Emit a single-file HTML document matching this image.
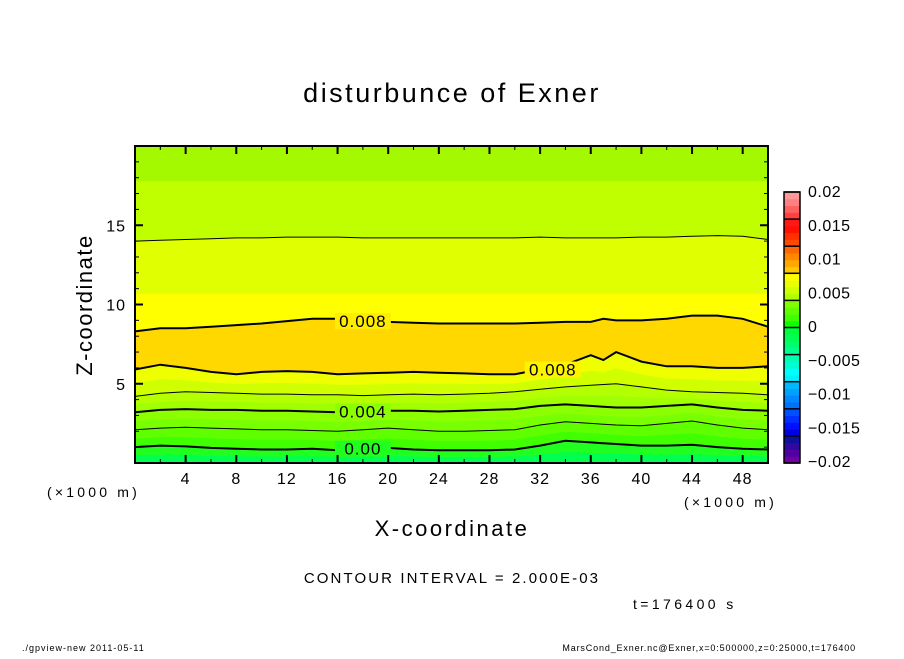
<!DOCTYPE html>
<html><head><meta charset="utf-8"><style>
body{margin:0;background:#fff;}
svg text{font-family:"Liberation Sans","DejaVu Sans",sans-serif;fill:#000;}
</style></head><body>
<svg id="chart" width="904" height="654" xmlns="http://www.w3.org/2000/svg">
<text x="452" y="102" text-anchor="middle" font-size="27" letter-spacing="2.5">disturbunce of Exner</text>
<g id="plot"></g>
<g id="axes"></g>
<g id="cbar"></g>
<text x="92" y="305" text-anchor="middle" font-size="22" letter-spacing="1.5" transform="rotate(-90 92 305)">Z-coordinate</text>
<text x="452" y="536" text-anchor="middle" font-size="22" letter-spacing="2.5">X-coordinate</text>
<text x="47" y="497" font-size="14" letter-spacing="3.2">(×1000 m)</text>
<text x="684" y="507" font-size="14" letter-spacing="3.2">(×1000 m)</text>
<text x="452" y="583" text-anchor="middle" font-size="15" letter-spacing="2.1">CONTOUR INTERVAL = 2.000E-03</text>
<text x="633" y="609" font-size="14" letter-spacing="3.4">t=176400 s</text>
<text x="22" y="651" font-size="9" letter-spacing="1">./gpview-new   2011-05-11</text>
<text x="856" y="651" font-size="9" text-anchor="end" letter-spacing="0.85">MarsCond_Exner.nc@Exner,x=0:500000,z=0:25000,t=176400</text>
</svg>
<script>
const xs=[0,2,4,6,8,10,12,14,16,18,20,22,24,26,28,30,32,34,36,37,38,40,42,44,46,48,50];
const line000=[1.0,1.1,1.05,0.95,0.9,0.85,0.85,0.9,0.8,0.9,0.95,0.85,0.8,0.8,0.8,0.85,1.1,1.4,1.3,1.25,1.2,1.1,1.1,1.15,1.0,0.9,0.85];
const line002=[2.1,2.2,2.25,2.2,2.15,2.1,2.1,2.05,2.0,2.1,2.2,2.1,2.0,2.0,2.05,2.1,2.4,2.6,2.5,2.45,2.4,2.35,2.5,2.65,2.4,2.2,2.1];
const line004=[3.2,3.35,3.4,3.35,3.35,3.3,3.3,3.25,3.2,3.25,3.3,3.3,3.25,3.3,3.35,3.4,3.6,3.7,3.6,3.55,3.5,3.5,3.6,3.7,3.5,3.35,3.3];
const line006=[4.2,4.4,4.5,4.45,4.4,4.35,4.35,4.3,4.3,4.25,4.3,4.35,4.3,4.35,4.4,4.5,4.65,4.8,4.9,4.95,5.0,4.8,4.6,4.5,4.45,4.4,4.3];
const line008lo=[5.9,6.2,6.0,5.75,5.6,5.75,5.8,5.75,5.6,5.65,5.7,5.75,5.7,5.65,5.6,5.6,5.9,6.2,6.8,6.5,7.0,6.4,6.1,6.1,6.0,6.0,6.1];
const line008hi=[8.3,8.5,8.5,8.6,8.7,8.8,8.95,9.1,9.1,8.95,8.9,8.85,8.8,8.8,8.8,8.8,8.85,8.9,8.9,9.1,9.0,9.0,9.1,9.3,9.3,9.1,8.6];
const line006hi=[14.0,14.05,14.1,14.15,14.2,14.2,14.25,14.25,14.25,14.2,14.2,14.2,14.2,14.2,14.2,14.2,14.25,14.2,14.2,14.2,14.2,14.25,14.25,14.3,14.35,14.3,14.1];
const upperShade1=[10.7,10.7,10.7,10.7,10.7,10.7,10.7,10.7,10.7,10.7,10.7,10.7,10.7,10.7,10.7,10.7,10.7,10.7,10.7,10.7,10.7,10.7,10.7,10.7,10.7,10.7,10.7];
const upperShade2=[17.8,17.8,17.8,17.8,17.8,17.8,17.8,17.8,17.8,17.8,17.8,17.8,17.8,17.8,17.8,17.8,17.8,17.8,17.8,17.8,17.8,17.8,17.8,17.8,17.8,17.8,17.8];
const xTicks=[4,8,12,16,20,24,28,32,36,40,44,48];
const zTicks=[5,10,15];
const cbLabels=["0.02","0.015","0.01","0.005","0","\u22120.005","\u22120.01","\u22120.015","\u22120.02"];
const cbColors=["#7000a8","#5000a0","#300aa0","#1010a0","#0000e0","#0010ff","#0030ff","#0050ff","#0070ff","#0088ff","#00a0ff","#00b8ff","#00f0ff","#00ffff","#00ffd0","#00ffb0","#00ff90","#00ff70","#00ff50","#00ff40","#10ff00","#40ff00","#60ff00","#80ff00","#b0ff00","#d0ff00","#e8ff00","#ffff00","#ffc800","#ffa800","#ff8800","#ff6800","#ff4800","#ff3000","#ff1000","#ff1818","#ff4040","#ff6060","#ff8080","#ff9898"];
const X0=135,X1=768,Y0=463,Y1=146;
const sx=x=>X0+(X1-X0)*x/50, sz=z=>Y0-(Y0-Y1)*z/20;
const NS="http://www.w3.org/2000/svg";
function mk(t,a,p){const e=document.createElementNS(NS,t);for(const k in a)e.setAttribute(k,a[k]);p.appendChild(e);return e;}
const plotG=document.getElementById('plot'),axesG=document.getElementById('axes'),cbarG=document.getElementById('cbar');
const mid=(a,b)=>a.map((v,i)=>(v+b[i])/2);
const zeroLine=xs.map(()=>0),topLine=xs.map(()=>20);
const bounds=[zeroLine,mid(zeroLine,line000),line000,mid(line000,line002),line002,mid(line002,line004),line004,mid(line004,line006),line006,mid(line006,line008lo),line008lo,line008hi,upperShade1,line006hi,upperShade2,topLine];
const bandColors=["#00ff50","#20ff20","#40ff00","#60ff00","#78ff00","#8cff00","#a0ff00","#b4ff00","#d0ff00","#f0ff00","#ffd800","#ffff00","#e0ff00","#c0ff00","#a4f800"];
function pts(arr){return xs.map((x,i)=>sx(x).toFixed(1)+","+sz(arr[i]).toFixed(1));}
for(let b=0;b<bandColors.length;b++){
  const p=pts(bounds[b]).concat(pts(bounds[b+1]).reverse());
  const e=mk('polygon',{points:p.join(' '),fill:bandColors[b],stroke:bandColors[b],'stroke-width':0.6},plotG);
  
  
}
const lines=[[line000,2],[line002,1],[line004,2],[line006,1],[line008lo,2],[line008hi,2],[line006hi,1]];
lines.forEach(([arr,w])=>{
  const e=mk('polyline',{points:pts(arr).join(' '),fill:'none',stroke:'#000','stroke-width':w},plotG);
  
  
});
[["0.008",18,line008hi[9],"#ffec00"],["0.008",33,line008lo[16],"#fff400"],["0.004",18,line004[9],"#8cff00"],["0.00",18,line000[9],"#20ff20"]].forEach(([t,x,z,c])=>{
  mk('rect',{x:sx(x)-28,y:sz(z)-8,width:56,height:16,fill:c},plotG);
  const e=mk('text',{x:sx(x),y:sz(z)+6,'text-anchor':'middle','font-size':17,'letter-spacing':1},plotG);
  e.textContent=t;
  
  
});
mk('rect',{x:X0,y:Y1,width:X1-X0,height:Y0-Y1,fill:'none',stroke:'#000','stroke-width':2},axesG);
for(let x=0;x<=50;x+=2){const big=x%4===0,l=big?8:4;
  mk('line',{x1:sx(x),x2:sx(x),y1:Y0,y2:Y0-l,stroke:'#000','stroke-width':big?2:1},axesG);
  mk('line',{x1:sx(x),x2:sx(x),y1:Y1,y2:Y1+l,stroke:'#000','stroke-width':big?2:1},axesG);}
for(let z=0;z<=20;z++){const big=z%5===0,l=big?8:4;
  mk('line',{x1:X0,x2:X0+l,y1:sz(z),y2:sz(z),stroke:'#000','stroke-width':big?2:1},axesG);
  mk('line',{x1:X1,x2:X1-l,y1:sz(z),y2:sz(z),stroke:'#000','stroke-width':big?2:1},axesG);}
xTicks.forEach(v=>{const e=mk('text',{x:sx(v),y:484,'text-anchor':'middle','font-size':16,'letter-spacing':1},axesG);e.textContent=v;
  });
zTicks.forEach(v=>{const e=mk('text',{x:126,y:sz(v)+6,'text-anchor':'end','font-size':16,'letter-spacing':1},axesG);e.textContent=v;
  });
const CB0=463,CB1=192,cx=784,cw=16;
const n=cbColors.length,h=(CB0-CB1)/n;
cbColors.forEach((c,i)=>{const e=mk('rect',{x:cx,y:CB0-(i+1)*h,width:cw,height:h+0.5,fill:c},cbarG);
  });
for(let k=0;k<=10;k++)mk('line',{x1:cx,x2:cx+cw,y1:CB1+k*(CB0-CB1)/10,y2:CB1+k*(CB0-CB1)/10,stroke:'#000','stroke-width':1.5},cbarG);
mk('rect',{x:cx,y:CB1,width:cw,height:CB0-CB1,fill:'none',stroke:'#000','stroke-width':1.5},cbarG);
cbLabels.forEach((t,k)=>{const e=mk('text',{x:808,y:191+k*(461-191)/8+6,'font-size':16,'letter-spacing':0.5},cbarG);e.textContent=t;
  });
</script>
</body></html>
